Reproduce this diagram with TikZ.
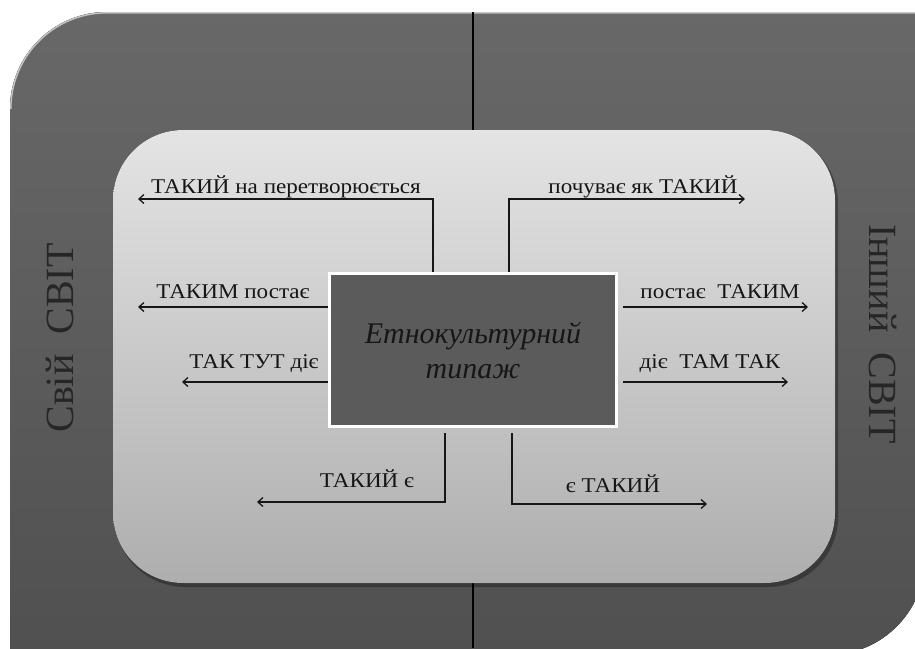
\documentclass[tikz,border=0pt]{standalone}
\usepackage{fontspec}
\setmainfont{Liberation Serif}
\usetikzlibrary{arrows.meta}
\definecolor{outerA}{HTML}{686868}
\definecolor{outerB}{HTML}{505050}
\definecolor{innerA}{HTML}{E4E4E4}
\definecolor{innerB}{HTML}{AEAEAE}
\definecolor{boxfill}{HTML}{5B5B5B}
\definecolor{ink}{HTML}{161616}
\newcommand\widetxt[1]{\scalebox{1.1}[1]{#1}}
\begin{document}
\begin{tikzpicture}[x=1pt,y=-1pt,
  conn/.style={draw=ink,line width=1.3pt,-{Straight Barb[length=5pt,width=9pt]}},
  lab/.style={font=\fontsize{21}{24}\selectfont,text=ink,inner sep=0pt,anchor=base},
  side/.style={font=\fontsize{40}{44}\selectfont,text=black!85,inner sep=0pt},
]
\useasboundingbox (0,0) rectangle (915,648);
\fill[white] (0,0) rectangle (915,648);
% outer world shape
\fill[top color=outerA,bottom color=outerB] (10,655) -- (10,109)
  arc[start angle=180,end angle=270,radius=97] -- (925,12) -- (925,558)
  arc[start angle=0,end angle=90,radius=97] -- cycle;
\draw[white!60!outerA,line width=1.5pt] (10.8,109)
  arc[start angle=180,end angle=270,radius=96.2] -- (925,12.8);
% divider
\coordinate (dtop) at (473,12);
\coordinate (dbot) at (473,648);
\draw[black,line width=2.5pt] (dtop) -- (dbot);
% inner panel
\fill[black,opacity=0.3,rounded corners=70pt] (115,133) rectangle (838,587);
\fill[top color=innerA,bottom color=innerB,rounded corners=70pt] (113,130) rectangle (835,583);
% central box
\node[draw=white,line width=3pt,fill=boxfill,minimum width=287pt,minimum height=153pt,
  font=\fontsize{30}{35}\selectfont\itshape,text=ink,align=center] (box) at (473,350)
  {\raisebox{-3pt}{Етнокультурний}\\\raisebox{-3pt}{типаж}};
% side labels
\node[side,rotate=90] (own) at (60,338) {Свій\ \ СВІТ};
\node[side,rotate=-90] (other) at (883,334) {Інший\ \ СВІТ};
% arrow ends
\coordinate (e1) at (138,199);
\coordinate (e2) at (745,199);
\coordinate (e3) at (138,307);
\coordinate (e4) at (808,307);
\coordinate (e5) at (182,382);
\coordinate (e6) at (788,382);
\coordinate (e7) at (257,502);
\coordinate (e8) at (707,504);
% connectors
\draw[conn] ([xshift=-40pt]box.north) |- (e1);
\draw[conn] ([xshift=36pt]box.north) |- (e2);
\draw[conn] ([yshift=43pt]box.west) -- (e3);
\draw[conn] ([xshift=5pt,yshift=43pt]box.east) -- (e4);
\draw[conn] ([yshift=-32pt]box.west) -- (e5);
\draw[conn] ([xshift=5pt,yshift=-32pt]box.east) -- (e6);
\draw[conn] ([xshift=-28pt,yshift=-5pt]box.south) |- (e7);
\draw[conn] ([xshift=39pt,yshift=-5pt]box.south) |- (e8);
% labels
\node[lab] (l1) at (286,193) {\widetxt{ТАКИЙ на перетворюється}};
\node[lab] (l2) at (643,193) {\widetxt{почуває як ТАКИЙ}};
\node[lab] (l3) at (233,298) {\widetxt{ТАКИМ постає}};
\node[lab] (l4) at (720,298) {\widetxt{постає\ \ ТАКИМ}};
\node[lab] (l5) at (254,368) {\widetxt{ТАК ТУТ діє}};
\node[lab] (l6) at (710,368) {\widetxt{діє\ \ ТАМ ТАК}};
\node[lab] (l7) at (367,487) {\widetxt{ТАКИЙ є}};
\node[lab] (l8) at (613,492) {\widetxt{є ТАКИЙ}};
\end{tikzpicture}
\end{document}
